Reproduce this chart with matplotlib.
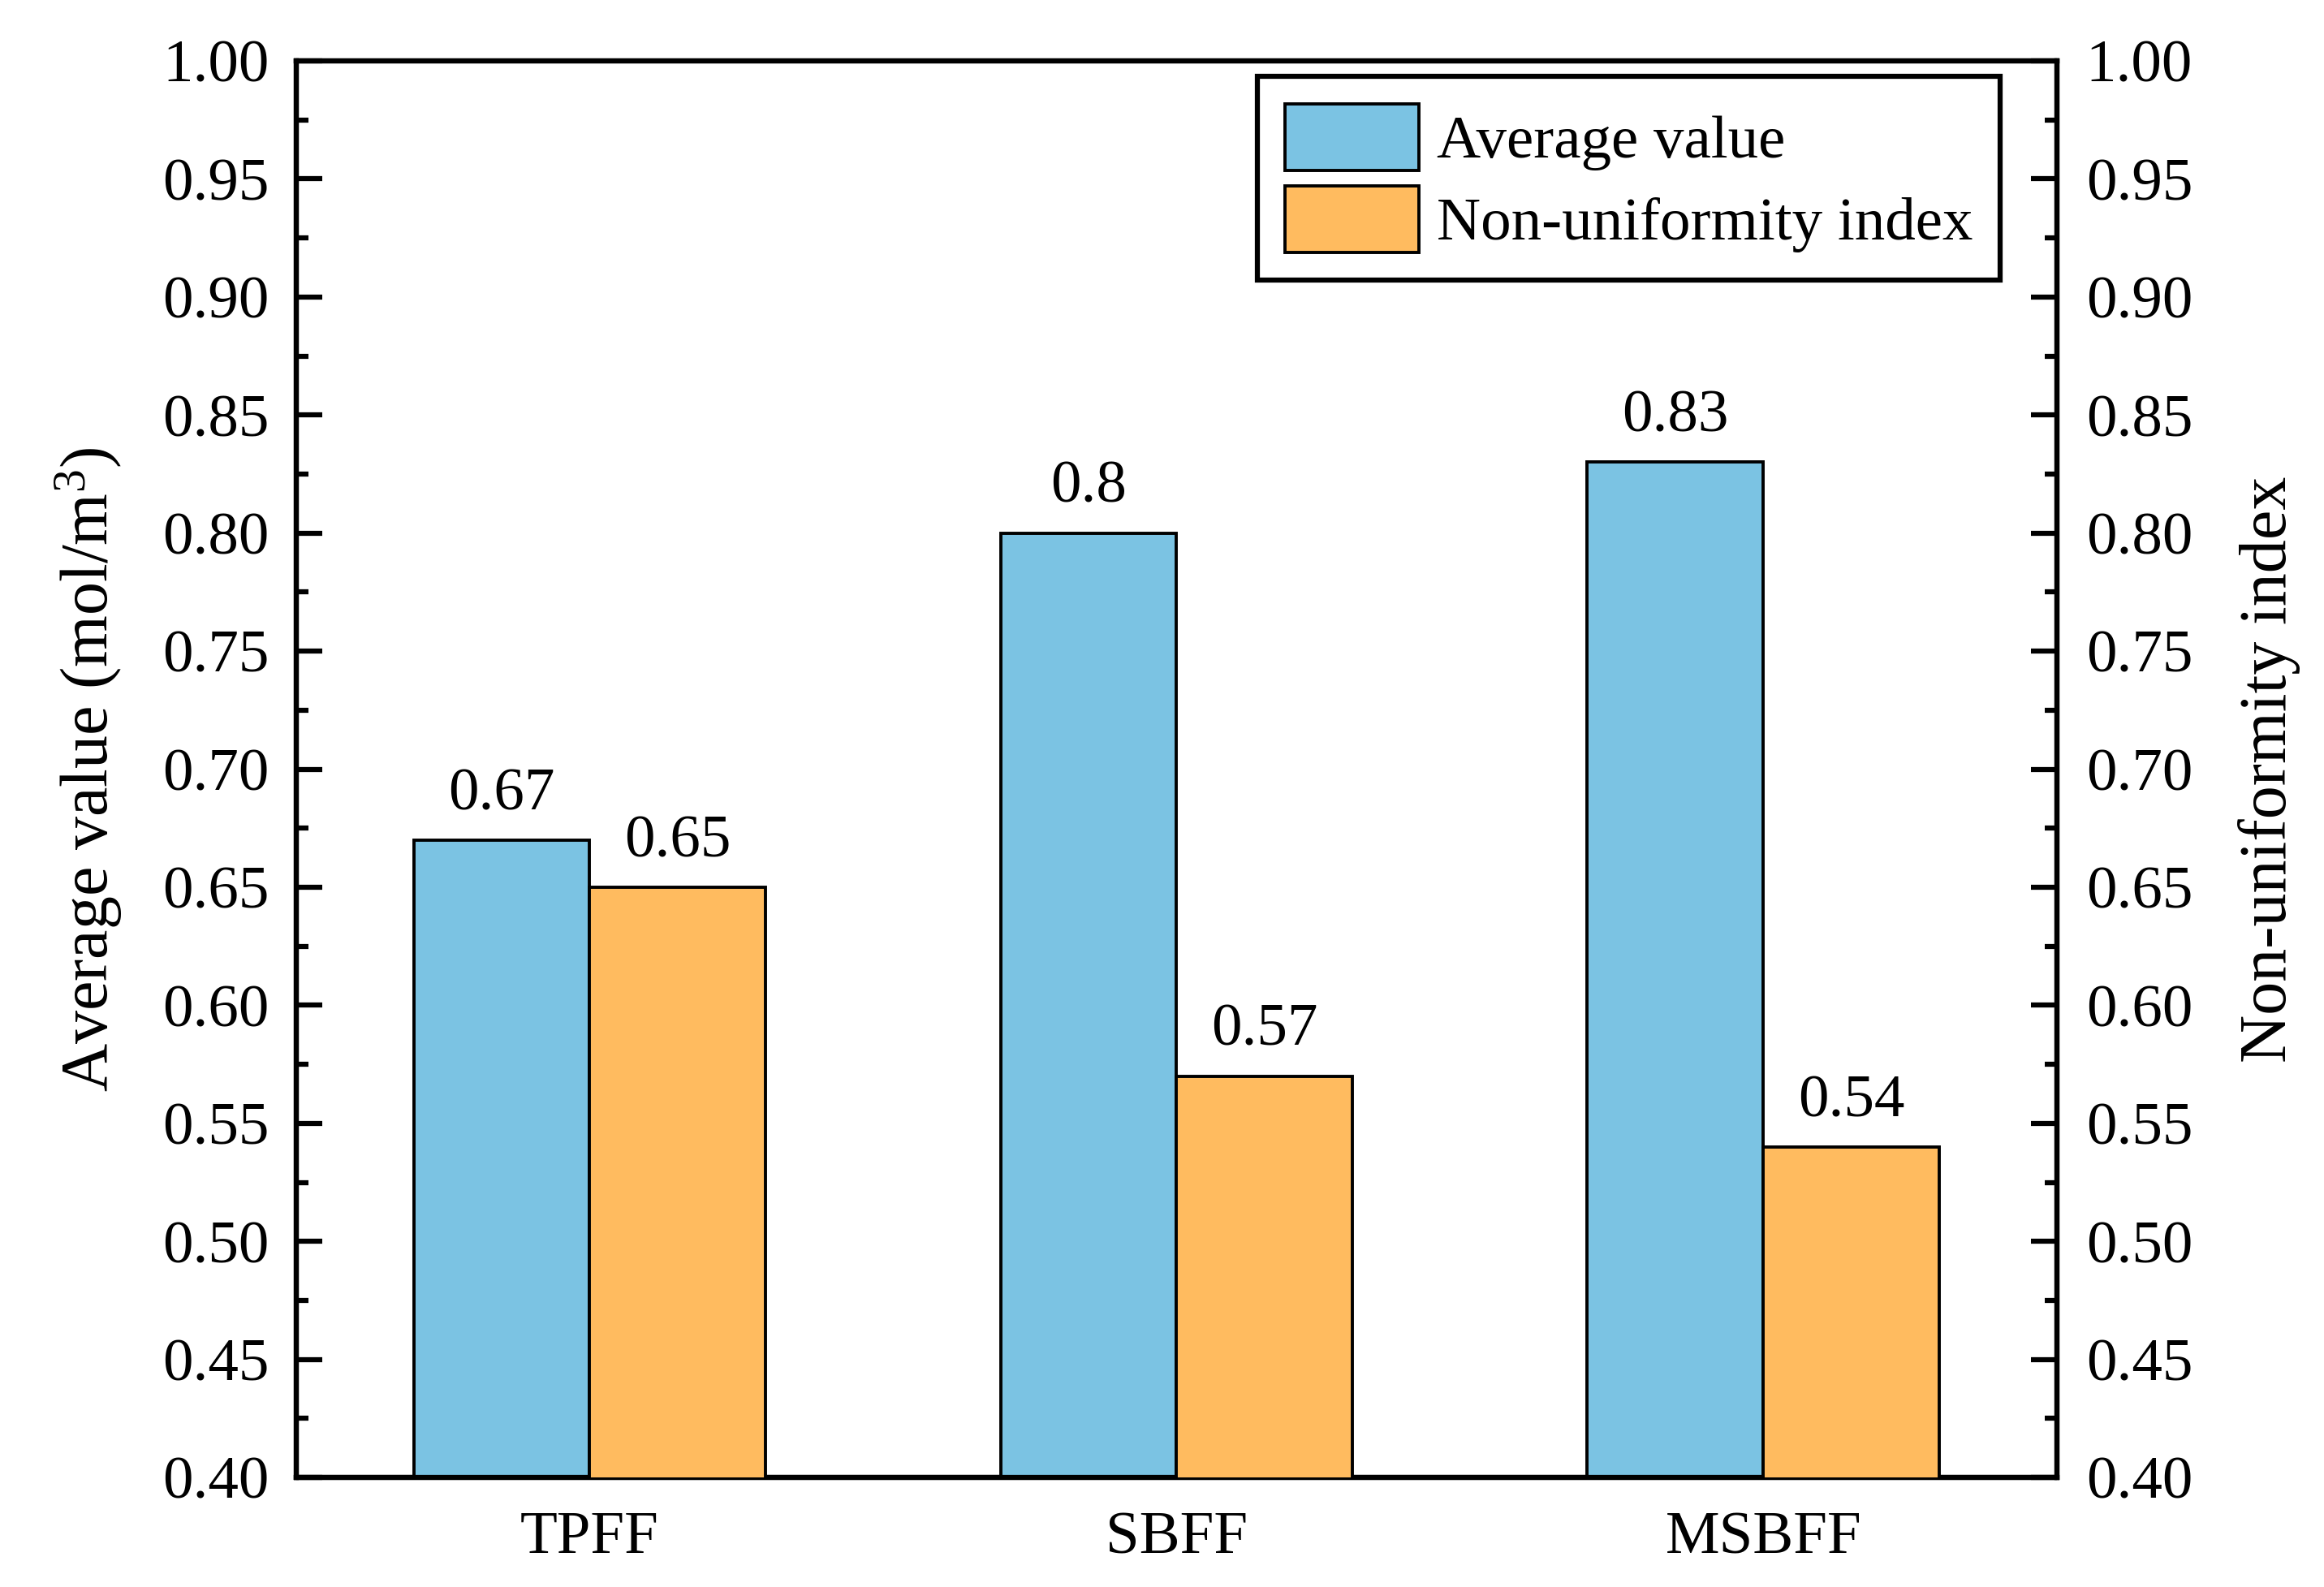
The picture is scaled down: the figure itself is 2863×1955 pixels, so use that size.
import matplotlib
matplotlib.use("Agg")
import matplotlib.pyplot as plt
import numpy as np
from matplotlib.ticker import MultipleLocator, FormatStrFormatter

categories = ["TPFF", "SBFF", "MSBFF"]
average_value = [0.67, 0.80, 0.83]
non_uniformity = [0.65, 0.57, 0.54]
avg_labels = ["0.67", "0.8", "0.83"]
nu_labels = ["0.65", "0.57", "0.54"]

plt.rcParams['font.family'] = ['Liberation Serif', 'DejaVu Serif']
plt.rcParams['mathtext.fontset'] = 'custom'
plt.rcParams['mathtext.rm'] = 'Liberation Serif'
plt.rcParams['mathtext.it'] = 'Liberation Serif:italic'

blue = '#7BC3E3'
orange = '#FFBB5F'
FS = 54
LFS = 59

fig = plt.figure(figsize=(28.63, 19.55), dpi=100)
ax = fig.add_axes([0.1275, 0.069, 0.885 - 0.1275, 0.9616 - 0.069])
ax2 = ax.twinx()

x = np.arange(len(categories))
w = 0.3
b1 = ax.bar(x - w / 2, average_value, width=w, color=blue, edgecolor='black', linewidth=2.8, label='Average value', zorder=3)
b2 = ax2.bar(x + w / 2, non_uniformity, width=w, color=orange, edgecolor='black', linewidth=2.8, label='Non-uniformity index', zorder=3)

for a in (ax, ax2):
    a.set_ylim(0.40, 1.00)
    a.yaxis.set_major_locator(MultipleLocator(0.05))
    a.yaxis.set_minor_locator(MultipleLocator(0.025))
    a.yaxis.set_major_formatter(FormatStrFormatter('%.2f'))
    for s in a.spines.values():
        s.set_linewidth(4.5)
ax.set_xlim(-0.5, 2.5)
ax.set_xticks(x)
ax.set_xticklabels(categories)
ax.tick_params(axis='x', length=0, pad=30, labelsize=FS)
ax.tick_params(axis='y', which='major', direction='in', length=23, width=4.5, pad=24, labelsize=FS)
ax.tick_params(axis='y', which='minor', direction='in', length=11, width=4.5)
ax2.tick_params(axis='y', which='major', direction='in', length=23, width=4.5, pad=26, labelsize=FS)
ax2.tick_params(axis='y', which='minor', direction='in', length=11, width=4.5)

for rect, lab in zip(b1, avg_labels):
    ax.text(rect.get_x() + rect.get_width() / 2, rect.get_height() + 0.0075, lab,
            ha='center', va='bottom', fontsize=FS)
for rect, lab in zip(b2, nu_labels):
    ax2.text(rect.get_x() + rect.get_width() / 2, rect.get_height() + 0.0075, lab,
             ha='center', va='bottom', fontsize=FS)

ax.set_ylabel(r'Average value (mol/m$^\mathregular{3}$)', fontsize=LFS, labelpad=34)
ax2.set_ylabel('Non-uniformity index', fontsize=LFS, labelpad=40)

leg = ax2.legend([b1, b2], ['Average value', 'Non-uniformity index'], loc='upper right',
                 bbox_to_anchor=(0.968, 0.989), fontsize=FS, frameon=True, fancybox=False,
                 edgecolor='black', borderpad=0.45, handlelength=2.2, handleheight=1.3,
                 handletextpad=0.3, labelspacing=0.25, borderaxespad=0)
leg.get_frame().set_linewidth(4.5)
leg.get_frame().set_alpha(1)

fig.savefig('out.png', dpi=100)
